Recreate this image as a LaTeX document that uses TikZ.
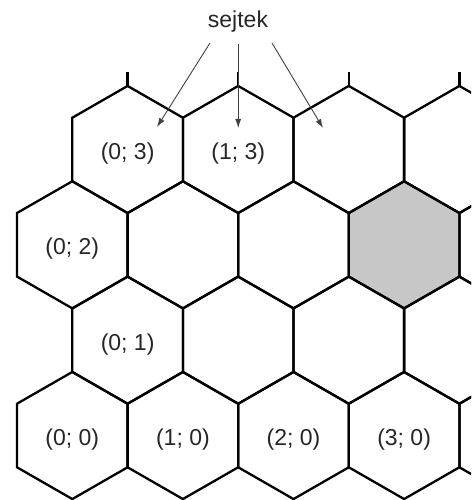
\documentclass[tikz,border=0pt]{standalone}
\usepackage{fontspec}
\setmainfont{Liberation Sans}
\usetikzlibrary{arrows.meta}
\begin{document}
\begin{tikzpicture}[x=1pt,y=-1pt,
  hexline/.style={line width=2.3pt, line join=miter, draw=black},
  cellfill/.style={fill=black!22},
  lab/.style={font=\fontsize{23}{27}\selectfont, text=black!85, inner sep=0pt},
  ptr/.style={draw=black!75, line width=0.9pt, -{Latex[length=9pt,width=6pt]}}]
\useasboundingbox (0,0) rectangle (471,500);
\def\hw{55.3}\def\hh{31.78}\def\hS{63.55}
\def\hexpath#1#2{(#1,#2-\hS) -- (#1+\hw,#2-\hh) -- (#1+\hw,#2+\hh) -- (#1,#2+\hS) -- (#1-\hw,#2+\hh) -- (#1-\hw,#2-\hh) -- cycle}
\begin{scope}
\clip (0,0) rectangle (471,500);
% shaded cell
\path[cellfill] \hexpath{404.1}{244.8};
% rows 0 and 2
\foreach \cy in {435.5,244.8}{
  \foreach \cx in {72.3,182.9,293.5,404.1,514.7}{
    \draw[hexline] \hexpath{\cx}{\cy};
  }
}
% rows 1 and 3
\foreach \cy in {340.2,149.5}{
  \foreach \cx in {127.6,238.2,348.8,459.4}{
    \draw[hexline] \hexpath{\cx}{\cy};
  }
}
% stubs of the next row
\foreach \cx in {127.6,238.2,348.8,459.4}{
  \draw[hexline] (\cx,85.95) -- (\cx,72);
}
\end{scope}
% labels
\node[lab] (c00) at (72.3,440) {(0; 0)};
\node[lab] (c10) at (182.9,440) {(1; 0)};
\node[lab] (c20) at (293.5,440) {(2; 0)};
\node[lab] (c30) at (404.1,440) {(3; 0)};
\node[lab] (c01) at (127.6,344.5) {(0; 1)};
\node[lab] (c02) at (72.3,249) {(0; 2)};
\node[lab] (c03) at (127.6,153.5) {(0; 3)};
\node[lab] (c13) at (238.2,153.5) {(1; 3)};
\node[lab] (sejtek) at (238,22) {sejtek};
% arrows
\coordinate (s1) at (210,43);
\coordinate (s2) at (238.2,44);
\coordinate (s3) at (272,43);
\coordinate (t1) at (157,127);
\coordinate (t2) at (238.2,128);
\coordinate (t3) at (323,128);
\draw[ptr] (s1) -- (t1);
\draw[ptr] (s2) -- (t2);
\draw[ptr] (s3) -- (t3);
\end{tikzpicture}
\end{document}
